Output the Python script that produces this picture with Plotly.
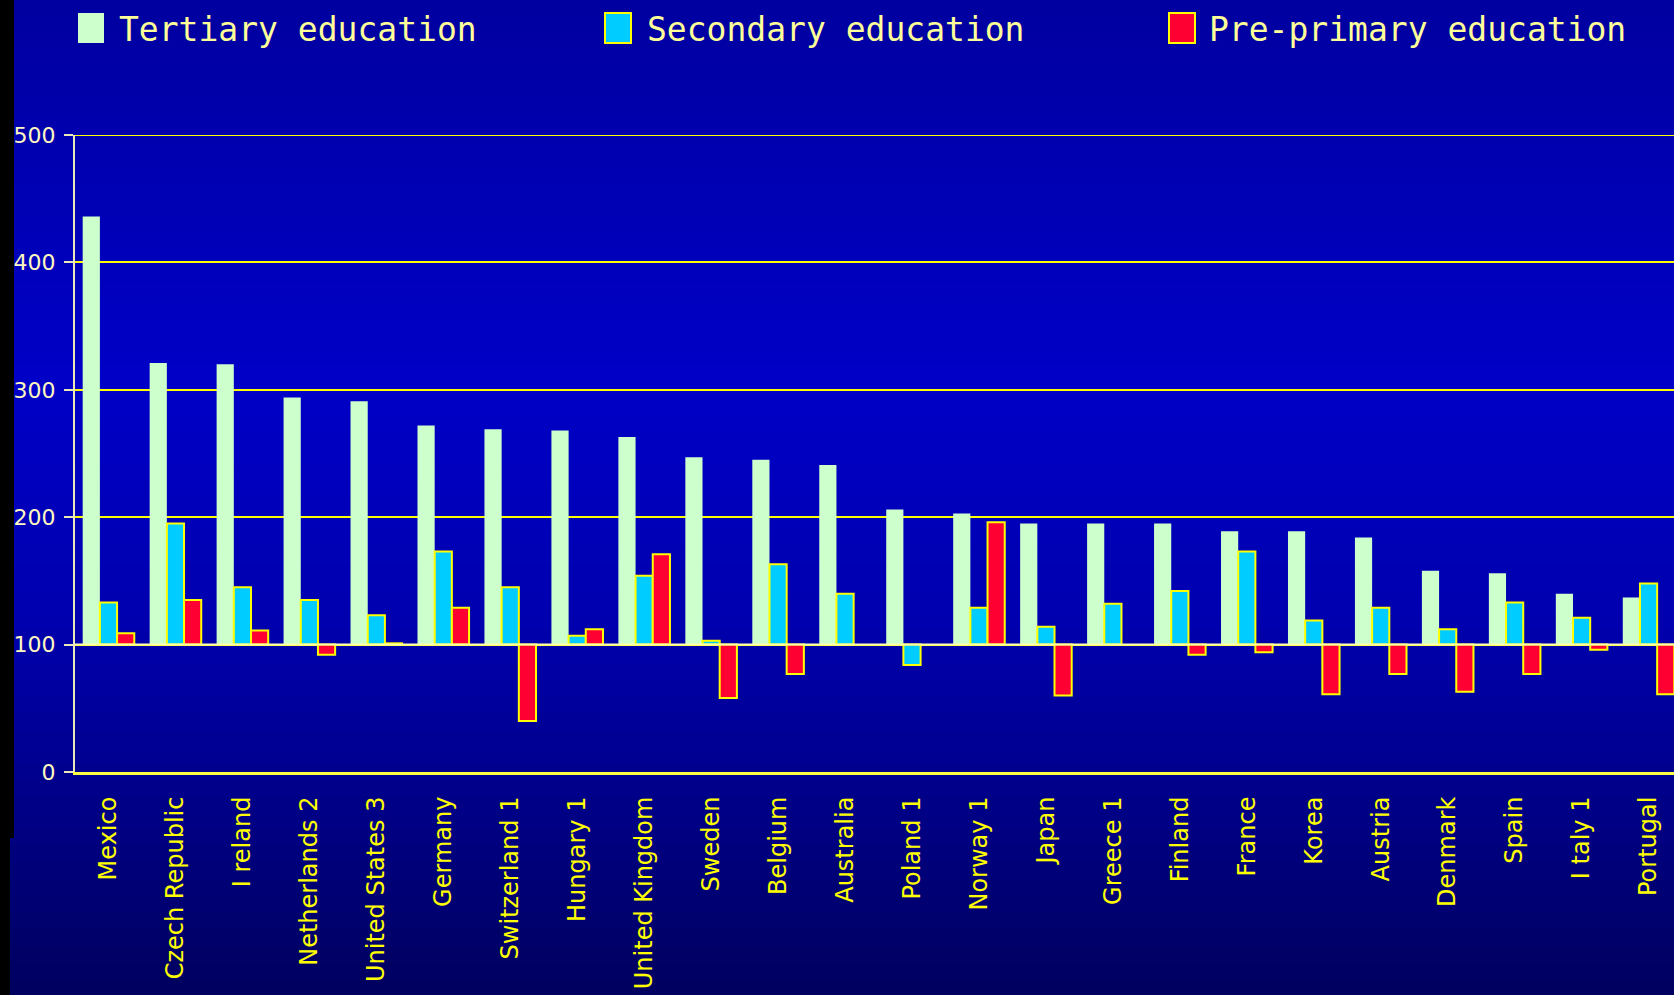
import plotly.graph_objects as go

# Paises (ordem do grafico original)
PAISES = [
    "Mexico", "Czech Republic", "I reland", "Netherlands 2", "United States 3",
    "Germany", "Switzerland 1", "Hungary 1", "United Kingdom", "Sweden",
    "Belgium", "Australia", "Poland 1", "Norway 1", "Japan", "Greece 1",
    "Finland", "France", "Korea", "Austria", "Denmark", "Spain", "I taly 1",
    "Portugal",
]

# Indice (base 100)
TERCIARIO = [436, 321, 320, 294, 291, 272, 269, 268, 263, 247, 245, 241,
             206, 203, 195, 195, 195, 189, 189, 184, 158, 156, 140, 137]
SECUNDARIO = [133, 195, 145, 135, 123, 173, 145, 107, 154, 103, 163, 140,
              84, 129, 114, 132, 142, 173, 119, 129, 112, 133, 121, 148]
PRE_PRIMARIO = [109, 135, 111, 92, 101, 129, 40, 112, 171, 58, 77, None,
                None, 196, 60, None, 92, 94, 61, 77, 63, 77, 96, 61]

BASE = 100
TICKS_Y = [0, 100, 200, 300, 400, 500]

SERIES = (
    ("Tertiary education", TERCIARIO, "#CCFFCC", 0),
    ("Secondary education", SECUNDARIO, "#00CCFF", 2),
    ("Pre-primary education", PRE_PRIMARIO, "#FF0033", 2),
)

LARGURA, ALTURA = 1674, 995
MARGEM = {"l": 75, "r": 0, "t": 135, "b": 223}


def _delta(valores):
    return [None if v is None else v - BASE for v in valores]


def _px_para_paper_x(px):
    return (px - MARGEM["l"]) / (LARGURA - MARGEM["l"] - MARGEM["r"])


def _px_para_paper_y(py):
    altura_plot = ALTURA - MARGEM["t"] - MARGEM["b"]
    return 1 - (py - MARGEM["t"]) / altura_plot


def _fundo_degrade():
    """Faixas horizontais que imitam o degrade azul do slide."""
    paradas = [(0, 160), (380, 200), (620, 175), (995, 95)]
    faixas = []
    n = 60
    for i in range(n):
        y0 = ALTURA * i / n
        y1 = ALTURA * (i + 1) / n
        meio = (y0 + y1) / 2
        for (a, ca), (b, cb) in zip(paradas, paradas[1:]):
            if a <= meio <= b:
                azul = ca + (cb - ca) * (meio - a) / (b - a)
                break
        faixas.append(dict(
            type="rect", xref="paper", yref="paper", layer="below",
            x0=_px_para_paper_x(0), x1=_px_para_paper_x(LARGURA),
            y0=_px_para_paper_y(y1 + 0.5), y1=_px_para_paper_y(y0),
            fillcolor=f"rgb(0,0,{int(azul)})", line={"width": 0},
        ))
    # faixa preta na borda esquerda
    faixas.append(dict(
        type="rect", xref="paper", yref="paper", layer="below",
        x0=_px_para_paper_x(0), x1=_px_para_paper_x(14),
        y0=_px_para_paper_y(838), y1=_px_para_paper_y(0),
        fillcolor="black", line={"width": 0},
    ))
    faixas.append(dict(
        type="rect", xref="paper", yref="paper", layer="below",
        x0=_px_para_paper_x(0), x1=_px_para_paper_x(10),
        y0=_px_para_paper_y(ALTURA), y1=_px_para_paper_y(838),
        fillcolor="black", line={"width": 0},
    ))
    return faixas


figura = go.Figure()
for nome, valores, cor, borda in SERIES:
    figura.add_trace(go.Bar(
        x=PAISES,
        y=_delta(valores),
        base=BASE,
        name=nome,
        marker={"color": cor,
                "line": {"color": "#FFFF00" if borda else cor, "width": borda}},
        customdata=valores,
        hovertemplate="%{x}: %{customdata}<extra>" + nome + "</extra>",
        showlegend=False,
    ))

# Legenda desenhada a mao (quadrados grandes como no slide)
legenda = [
    ("Tertiary education", "#CCFFCC", None, 78, 117),
    ("Secondary education", "#00CCFF", "#FFFF00", 605, 645),
    ("Pre-primary education", "#FF0033", "#FFFF00", 1169, 1207),
]
formas = _fundo_degrade()
anotacoes = []
for texto, cor, borda, x_quad, x_texto in legenda:
    formas.append(dict(
        type="rect", xref="paper", yref="paper",
        x0=_px_para_paper_x(x_quad), x1=_px_para_paper_x(x_quad + 26),
        y0=_px_para_paper_y(43), y1=_px_para_paper_y(13),
        fillcolor=cor,
        line={"color": borda or cor, "width": 2 if borda else 0},
    ))
    anotacoes.append(dict(
        text=texto, xref="paper", yref="paper", showarrow=False,
        x=_px_para_paper_x(x_texto), y=_px_para_paper_y(29),
        xanchor="left", yanchor="middle",
        font={"family": "DejaVu Sans Mono", "size": 33, "color": "#FFFF99"},
    ))

# linha base em 100 sobre as barras
formas.append(dict(
    type="line", xref="paper", yref="y", x0=0, x1=1, y0=BASE, y1=BASE,
    line={"color": "#FFFFB0", "width": 2}, layer="above",
))
# linha de grade do topo (500), que o plotly omite na borda
formas.append(dict(
    type="line", xref="paper", yref="y", x0=0, x1=1, y0=500, y1=500,
    line={"color": "#FFFF00", "width": 2}, layer="below",
))

figura.update_layout(
    width=LARGURA,
    height=ALTURA,
    margin=MARGEM,
    paper_bgcolor="#0000A0",
    plot_bgcolor="rgba(0,0,0,0)",
    barmode="group",
    bargap=0.23,
    bargroupgap=0,
    shapes=formas,
    annotations=anotacoes,
    showlegend=False,
)
figura.update_yaxes(
    range=[0, 500],
    tickvals=TICKS_Y,
    showgrid=True,
    gridcolor="#FFFF00",
    gridwidth=2,
    zeroline=False,
    showline=True,
    linecolor="#E8E8B8",
    linewidth=2,
    ticks="outside",
    ticklen=9,
    tickcolor="#E8E8B8",
    tickwidth=1.5,
    ticklabelstandoff=4,
    tickfont={"family": "DejaVu Sans", "size": 22, "color": "#FFF8C0"},
)
figura.update_xaxes(
    range=[-0.5, 23.38],
    tickangle=-90,
    showgrid=False,
    showline=True,
    linecolor="#FFFF44",
    linewidth=3,
    ticks="",
    ticklabelstandoff=12,
    tickfont={"family": "DejaVu Sans", "size": 24, "color": "#FFFF00"},
)

figura.write_html(
    "out.html",
    config={"displayModeBar": False},
    post_script="document.body.style.margin='0';document.body.style.overflow='hidden';",
)
